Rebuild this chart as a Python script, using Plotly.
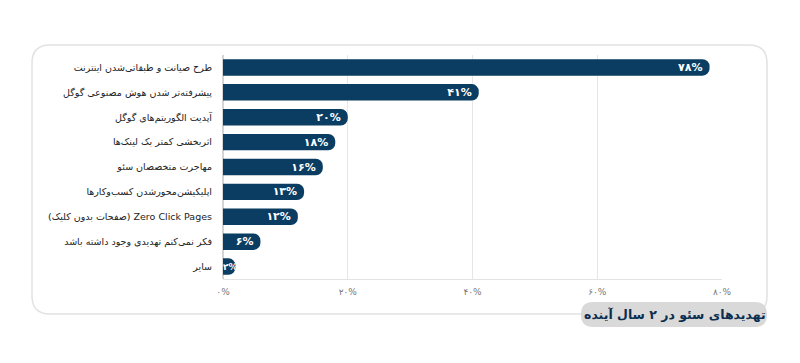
import plotly.graph_objects as go

categories = [
    "طرح صیانت و طبقاتی\u200cشدن اینترنت",
    "پیشرفته\u200cتر شدن هوش مصنوعی گوگل",
    "آپدیت الگوریتم\u200cهای گوگل",
    "اثربخشی کمتر بک لینک\u200cها",
    "مهاجرت متخصصان سئو",
    "اپلیکیشن\u200cمحورشدن کسب\u200cوکارها",
    "(صفحات بدون کلیک) Zero Click Pages",
    "فکر نمی\u200cکنم تهدیدی وجود داشته باشد",
    "سایر",
]
values = [78, 41, 20, 18, 16, 13, 12, 6, 2]
tick_vals = [0, 20, 40, 60, 80]
title_text = "تهدیدهای سئو در ۲ سال آینده"

FA = str.maketrans("0123456789", "۰۱۲۳۴۵۶۷۸۹")
def fa(n):
    return str(n).translate(FA) + "%"

# the narrowest bar gets its label as an annotation starting at the axis
bar_text = [fa(v) for v in values[:-1]] + [""]
tick_text = [fa(v) for v in tick_vals]

NAVY = "#0b3c61"
OFF = 8  # page body margin

# plot area in screen pixels (minus page offset)
L, R, T, B = 223 - OFF, 722 - OFF, 55 - OFF, 279 - OFF
W, H = R - L, B - T

def px(x):
    return (x - OFF - L) / W

def py(y):
    return (B - (y - OFF)) / H

def rrect(x0, y0, x1, y1, r):
    pts = [
        ("M", [(x0 + r, y0)]),
        ("L", [(x1 - r, y0)]),
        ("Q", [(x1, y0), (x1, y0 + r)]),
        ("L", [(x1, y1 - r)]),
        ("Q", [(x1, y1), (x1 - r, y1)]),
        ("L", [(x0 + r, y1)]),
        ("Q", [(x0, y1), (x0, y1 - r)]),
        ("L", [(x0, y0 + r)]),
        ("Q", [(x0, y0), (x0 + r, y0)]),
    ]
    s = ""
    for cmd, ps in pts:
        s += cmd + " " + " ".join(f"{px(a):.5f},{py(b):.5f}" for a, b in ps) + " "
    return s + "Z"

fig = go.Figure()
fig.add_trace(go.Bar(
    x=values,
    y=categories,
    orientation="h",
    marker=dict(color=NAVY, line=dict(width=0)),
    text=bar_text,
    textposition="inside",
    insidetextanchor="end",
    textangle=0,
    constraintext="none",
    cliponaxis=False,
    textfont=dict(color="white", size=11, family="DejaVu Sans", weight="bold"),
    hoverinfo="skip",
))

fig.update_layout(
    width=800,
    height=363,
    margin=dict(l=L, r=800 - R, t=T, b=363 - B),
    paper_bgcolor="white",
    plot_bgcolor="white",
    showlegend=False,
    bargap=0.34,
    barcornerradius=7,
    uniformtext=dict(minsize=11, mode="show"),
    xaxis=dict(
        range=[0, 80],
        tickvals=tick_vals,
        ticktext=tick_text,
        showgrid=True,
        gridcolor="#e6e6e6",
        gridwidth=1,
        zeroline=True,
        zerolinecolor="#d5d5d5",
        showline=True,
        linecolor="#e3e3e3",
        tickfont=dict(size=9, color="#777777", family="DejaVu Sans"),
        ticks="",
        ticklabelstandoff=4,
        fixedrange=True,
    ),
    yaxis=dict(
        autorange="reversed",
        tickfont=dict(size=9.5, color="#222222", family="DejaVu Sans"),
        ticks="",
        ticklabelstandoff=10,
        showgrid=False,
        fixedrange=True,
    ),
    shapes=[
        dict(type="path", xref="paper", yref="paper", layer="below",
             path=rrect(32, 45, 767, 314, 18),
             line=dict(color="#e2e2e2", width=1.5), fillcolor="rgba(0,0,0,0)"),
        dict(type="path", xref="paper", yref="paper", layer="above",
             path=rrect(581, 302, 767, 327, 12),
             line=dict(width=0), fillcolor="#d9d9d9"),
    ],
    annotations=[
        dict(text=fa(values[-1]), xref="x", yref="y",
             x=0, y=categories[-1], xanchor="left", yanchor="middle",
             xshift=-1, showarrow=False, borderpad=0,
             font=dict(size=9, color="white", family="DejaVu Sans", weight="bold")),
        dict(text=f"<b>{title_text}</b>", xref="paper", yref="paper",
             x=px(675), y=py(314.5), xanchor="center", yanchor="middle",
             showarrow=False, font=dict(size=12.5, color="#0b2e4f", family="DejaVu Sans")),
    ],
)

fig.write_html("out.html")
